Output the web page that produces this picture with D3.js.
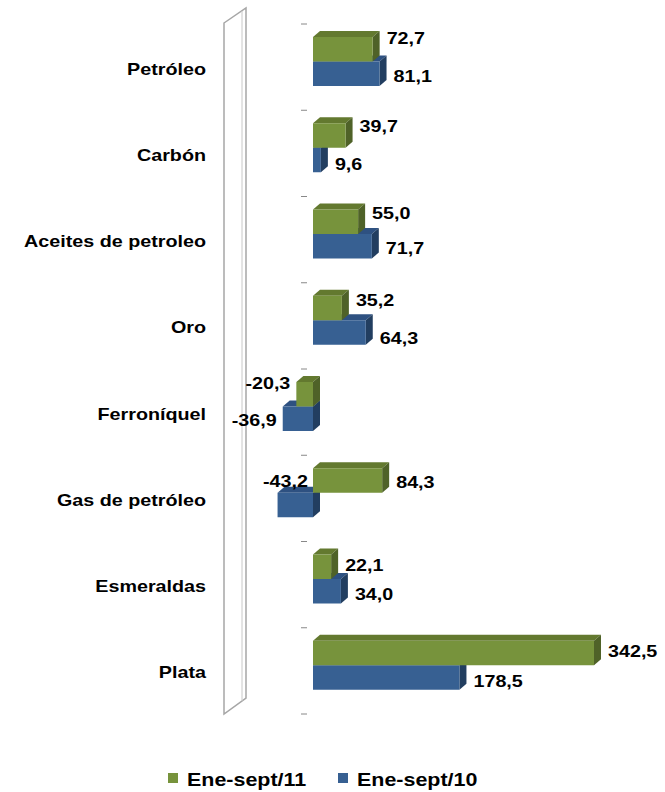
<!DOCTYPE html>
<html><head><meta charset="utf-8">
<script src="https://cdn.jsdelivr.net/npm/d3@7"></script>
<style>
body{margin:0;background:#fff;}
svg{display:block;font-family:"Liberation Sans",Arial,sans-serif;}
</style></head>
<body><div id="chart"></div>
<script>
const categories = ["Petróleo","Carbón","Aceites de petroleo","Oro","Ferroníquel","Gas de petróleo","Esmeraldas","Plata"];
const seriesNames = ["Ene-sept/11","Ene-sept/10"];
const values11 = [72.7, 39.7, 55.0, 35.2, -20.3, 84.3, 22.1, 342.5];
const values10 = [81.1, 9.6, 71.7, 64.3, -36.9, -43.2, 34.0, 178.5];
const labels11 = ["72,7","39,7","55,0","35,2","-20,3","84,3","22,1","342,5"];
const labels10 = ["81,1","9,6","71,7","64,3","-36,9","-43,2","34,0","178,5"];
// vertical nudges of the data labels (label layout as in the original)
const nudge11 = [-11.5, -10, -9, -8, -11, 1.5, -2, -2];
const nudge10 = [2, 3.5, 2, 5, 1.5, 0, 3, 3.5];

const W = 665, H = 792;
const SX = 1.16; // horizontal text stretch of the original
const svg = d3.select("#chart").append("svg").attr("width", W).attr("height", H);

function txt(g, x, y, s, anchor, size) {
  return g.append("text").attr("transform", `translate(${x},${y}) scale(${SX},1)`)
    .attr("text-anchor", anchor).attr("font-size", size).attr("font-weight", "bold")
    .attr("fill", "#000").text(s);
}

const x = d3.scaleLinear().domain([0, 342.5]).range([313, 594]);
const y = d3.scaleBand().domain(categories).range([24, 714]);
const inner = d3.scaleBand().domain(seriesNames).range([13, 62]);
const dx = 7, dy = 6;

const colors = {
  "Ene-sept/11": {front:"#77933C", top:"#63792F", side:"#4F6228"},
  "Ene-sept/10": {front:"#376092", top:"#2E5181", side:"#223E60"}
};

// wall
const wy0 = y.range()[0], wy1 = y.range()[1];
const wall = svg.append("g").attr("fill","none").attr("stroke","#a6a6a6").attr("stroke-width",1.5);
wall.append("path").attr("d", `M224,${wy0-1}L246,${wy0-16}L246,${wy1-16}L224,${wy1}Z`);
wall.append("line").attr("x1",242).attr("x2",242).attr("y1",wy0-13).attr("y2",wy1-13).attr("stroke","#c8c8c8").attr("stroke-width",1);

// ticks
const tickPos = categories.map(c => y(c)).concat([y.range()[1]]);
svg.append("g").selectAll("line").data(tickPos).join("line")
  .attr("x1",301).attr("x2",307).attr("y1",d=>d).attr("y2",d=>d)
  .attr("stroke","#888").attr("stroke-width",1);

// bars
const data = [];
categories.forEach((c,i)=>{
  data.push({cat:c, s:"Ene-sept/10", v:values10[i], lab:labels10[i], n:nudge10[i]});
  data.push({cat:c, s:"Ene-sept/11", v:values11[i], lab:labels11[i], n:nudge11[i]});
});
const bh = inner.bandwidth();
const gBars = svg.append("g");
data.forEach(d=>{
  const x0 = Math.min(x(0), x(d.v)), x1 = Math.max(x(0), x(d.v));
  const yt = y(d.cat) + inner(d.s), yb = yt + bh;
  const col = colors[d.s];
  const g = gBars.append("g");
  g.append("path").attr("d",`M${x0},${yt}L${x0+dx},${yt-dy}L${x1+dx},${yt-dy}L${x1},${yt}Z`).attr("fill",col.top);
  g.append("path").attr("d",`M${x1},${yt}L${x1+dx},${yt-dy}L${x1+dx},${yb-dy}L${x1},${yb}Z`).attr("fill",col.side);
  g.append("rect").attr("x",x0).attr("y",yt).attr("width",x1-x0).attr("height",bh).attr("fill",col.front);
  d.x0=x0; d.x1=x1; d.yc=(yt+yb)/2;
});

// value labels
const gl = svg.append("g");
data.forEach(d=>{
  let tx, anchor, ty = d.yc + d.n + 6;
  if (d.v >= 0) { tx = d.x1 + dx + 7; anchor = "start"; }
  else { tx = d.x0 - 6; anchor = "end"; }
  if (d.cat === "Gas de petróleo" && d.s === "Ene-sept/10") { tx = x(0) - 5; ty = d.yc + 6 - bh; }
  txt(gl, tx, ty, d.lab, anchor, 17);
});

// category labels
const gc = svg.append("g");
categories.forEach(c => txt(gc, 206, y(c) + y.bandwidth()/2 + 7.5, c, "end", 17));

// legend
const legend = svg.append("g");
const legX = [168, 338];
seriesNames.forEach((s,i)=>{
  legend.append("rect").attr("x",legX[i]).attr("y",773).attr("width",10).attr("height",10).attr("fill",colors[s].front);
  txt(legend, legX[i]+19, 786, s, "start", 18.5);
});
</script></body></html>
